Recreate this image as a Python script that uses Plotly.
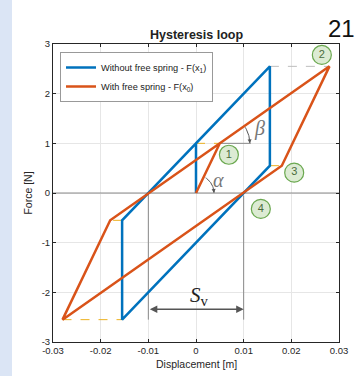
import numpy as np
import plotly.graph_objects as go

# ---- data ----
blue_x = [0, 0, 0.0155, 0.0155, -0.0155, -0.0155, 0.0155]
blue_y = [0, 1, 2.55, 0.55, -2.55, -0.55, 2.55]
orange_x = [0, 0.005, 0.028, 0.018, -0.028, -0.018, 0.028]
orange_y = [0, 1, 2.55, 0.55, -2.55, -0.55, 2.55]
xticks = [-0.03, -0.02, -0.01, 0, 0.01, 0.02, 0.03]
xticklabels = ["-0.03", "-0.02", "-0.01", "0", "0.01", "0.02", "0.03"]
yticks = [-3, -2, -1, 0, 1, 2, 3]
yticklabels = ["-3", "-2", "-1", "0", "1", "2", "3"]
circle_labels = ["1", "2", "3", "4"]
circle_x = [0.0069, 0.0264, 0.0206, 0.0136]
circle_y = [0.77, 2.78, 0.41, -0.32]
sv_left, sv_right, sv_y = -0.01, 0.01, -2.34

BLUE = "#0072BD"
ORANGE = "#D95319"
YELLOW = "#EDB120"
GRAY = "#8a8a8a"

# pixel geometry of plot
L, R, T, B = 53, 339, 44, 342
W, H = 360, 376
sx = (R - L) / 0.06   # px per data unit x
sy = (B - T) / 6.0    # px per data unit y

def px_x(p):
    return (p - L) / (R - L)

def px_y(p):
    return (B - p) / (B - T)

fig = go.Figure()

def line(x, y, color, width=1, dash="solid", name=None, legend=False):
    fig.add_trace(go.Scatter(x=x, y=y, mode="lines", name=name, showlegend=legend,
                             line=dict(color=color, width=width, dash=dash),
                             hoverinfo="skip"))

# reference lines
line([-0.03, 0.03], [0, 0], GRAY, 1)
line([orange_x[1], 0.0115], [1, 1], GRAY, 1)
line([sv_left, sv_left], [0, -2.55], GRAY, 1)
line([sv_right, sv_right], [-0.05, -2.55], GRAY, 1)
# dashed helpers
line([blue_x[2], orange_x[2]], [blue_y[2], orange_y[2]], "#bdbdbd", 1, "dash")
line([blue_x[1], orange_x[1]], [1, 1], YELLOW, 1, "dash")
line([blue_x[3], orange_x[3]], [0.55, 0.55], YELLOW, 1, "dash")
line([blue_x[5], orange_x[5]], [-0.55, -0.55], YELLOW, 1, "dash")
line([orange_x[4], blue_x[4]], [-2.55, -2.55], YELLOW, 1, "dash")

# main curves
line(blue_x, blue_y, BLUE, 2.5, name="Without free spring - F(x<sub>1</sub>)", legend=True)
line(orange_x, orange_y, ORANGE, 2.5, name="With free spring - F(x<sub>0</sub>)", legend=True)

# angle arcs (computed in pixel space)
def arc(cx, cy, r_px, a0, a1):
    t = np.linspace(a0, a1, 30)
    return cx + r_px * np.cos(t) / sx, cy + r_px * np.sin(t) / sy

ang_a = np.arctan2((orange_y[1] - orange_y[0]) * sy, (orange_x[1] - orange_x[0]) * sx)
ax_, ay_ = arc(0, 0, 18, 0.02, ang_a - 0.12)
line(ax_, ay_, "#555555", 1)
ang_b = np.arctan2((orange_y[2] - orange_y[1]) * sy, (orange_x[2] - orange_x[1]) * sx)
bx_, by_ = arc(orange_x[1], 1, 30, 0.02, ang_b - 0.05)
line(bx_, by_, "#555555", 1)

# circled numbers
fig.add_trace(go.Scatter(x=circle_x, y=circle_y, mode="markers+text", text=circle_labels,
                         showlegend=False, hoverinfo="skip",
                         marker=dict(size=19, color="#dcebd3", line=dict(color="#6aa84f", width=1.2)),
                         textfont=dict(size=11, color="#4b6b3d", family="Liberation Sans")))

ann = []
# arrowheads on arcs
ann.append(dict(x=ax_[0], y=0.0, ax=ax_[5], ay=ay_[5], xref="x", yref="y", axref="x", ayref="y",
                showarrow=True, arrowhead=2, arrowsize=0.8, arrowwidth=1, arrowcolor="#555555", text=""))
ann.append(dict(x=bx_[0], y=1.0, ax=bx_[5], ay=by_[5], xref="x", yref="y", axref="x", ayref="y",
                showarrow=True, arrowhead=2, arrowsize=0.8, arrowwidth=1, arrowcolor="#555555", text=""))
ann.append(dict(x=0.0048, y=0.26, text="<i>α</i>", showarrow=False, xanchor="center", yanchor="middle",
                font=dict(size=20, color="#777777", family="Liberation Serif")))
ann.append(dict(x=0.0133, y=1.3, text="<i>β</i>", showarrow=False, xanchor="center", yanchor="middle",
                font=dict(size=20, color="#777777", family="Liberation Serif")))
# Sv double arrow
ann.append(dict(x=sv_right, y=sv_y, ax=sv_left, ay=sv_y, xref="x", yref="y", axref="x", ayref="y",
                showarrow=True, arrowhead=2, startarrowhead=2, arrowside="end+start",
                arrowsize=1, arrowwidth=1.5, arrowcolor="#555555", text=""))
ann.append(dict(x=0.0008, y=-2.07, text="<i>S</i><sub>v</sub>", showarrow=False,
                xanchor="center", yanchor="middle",
                font=dict(size=21, color="#222222", family="Liberation Serif")))
# page number
ann.append(dict(x=px_x(341), y=px_y(28), xref="paper", yref="paper", xanchor="center", yanchor="middle",
                text="21", showarrow=False, font=dict(size=24, color="#111111", family="Liberation Sans")))
ann.append(dict(x=0.5, y=px_y(35), xref="paper", yref="paper", xanchor="center", yanchor="middle",
                text="<b>Hysteresis loop</b>",
                showarrow=False, font=dict(size=12.5, color="#222222", family="Liberation Sans")))
# x axis title
ann.append(dict(x=0.5, y=px_y(364), xref="paper", yref="paper", xanchor="center", yanchor="middle",
                text="Displacement [m]", showarrow=False,
                font=dict(size=10.5, color="#262626", family="Liberation Sans")))

axis_common = dict(showgrid=True, gridcolor="#e6e6e6", gridwidth=1, zeroline=False,
                   showline=True, linecolor="#262626", linewidth=1, mirror="ticks",
                   ticks="inside", ticklen=3, tickcolor="#262626",
                   tickfont=dict(size=9.5, color="#262626", family="Liberation Sans"))

fig.update_layout(
    width=W, height=H,
    margin=dict(l=L, r=W - R, t=T, b=H - B),
    paper_bgcolor="white", plot_bgcolor="white",
    annotations=ann,
    shapes=[dict(type="rect", xref="paper", yref="paper",
                 x0=px_x(0), x1=px_x(12), y0=px_y(H), y1=px_y(0),
                 fillcolor="#dbe5f5", line=dict(width=0), layer="below")],
    xaxis=dict(range=[-0.03, 0.03], tickvals=xticks, ticktext=xticklabels, automargin=False,
               **axis_common),
    yaxis=dict(range=[-3, 3], tickvals=yticks, ticktext=yticklabels,
               title=dict(text="Force [N]", font=dict(size=10.5, color="#262626", family="Liberation Sans"),
                          standoff=6), **axis_common),
    legend=dict(x=px_x(60), y=px_y(52), xanchor="left", yanchor="top",
                bgcolor="white", bordercolor="#999999", borderwidth=1,
                font=dict(size=9.2, color="#222222", family="Liberation Sans"),
                tracegroupgap=0, itemwidth=30),
)

fig.write_html("out.html", config={"displayModeBar": False},
               post_script="document.body.style.margin='0';")
